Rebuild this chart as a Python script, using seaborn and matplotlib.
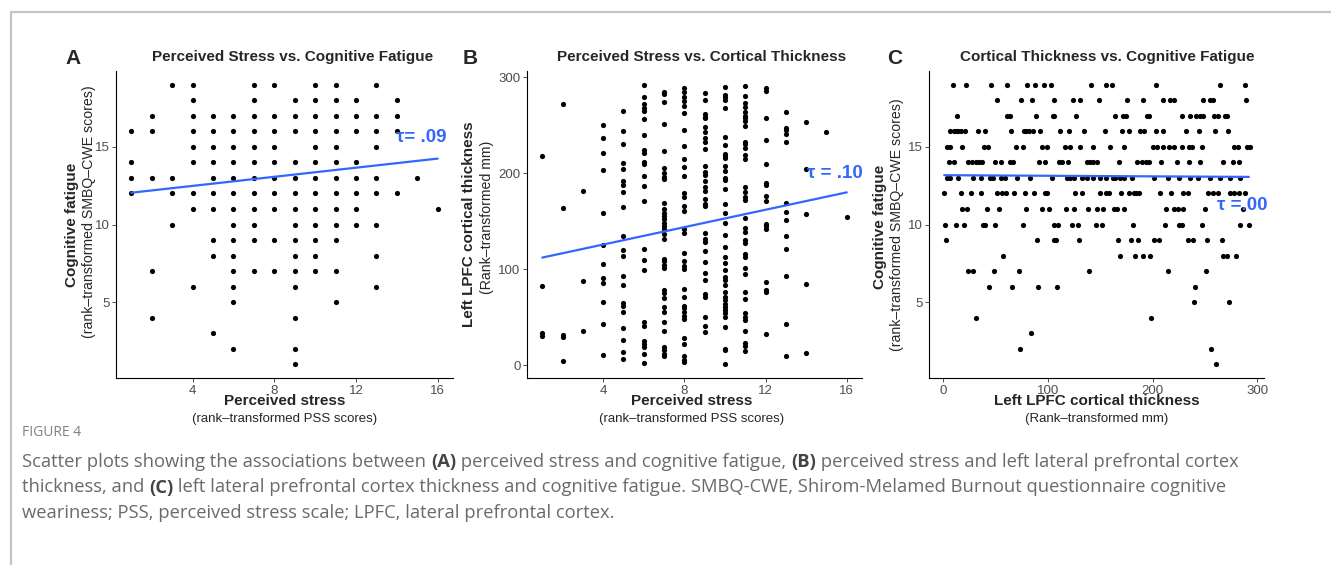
import matplotlib
matplotlib.use("Agg")
import matplotlib.pyplot as plt
import pandas as pd
import seaborn as sns
from matplotlib.lines import Line2D

# Panel A: cognitive fatigue values at each perceived-stress rank
a_fatigue_by_stress = {
    1: [16, 14, 13, 12],
    2: [17, 16, 13, 7, 4],
    3: [19, 13, 12, 10],
    4: [19, 18, 17, 16, 15, 14, 12, 11, 6],
    5: [17, 16, 15, 14, 13, 12, 11, 9, 8, 3],
    6: [17, 16, 15, 14, 13, 12, 11, 10, 9, 8, 7, 6, 5, 2],
    7: [19, 18, 17, 16, 15, 14, 13, 12, 11, 10, 9, 7],
    8: [19, 17, 16, 15, 14, 13, 12, 11, 9, 7],
    9: [18, 17, 16, 14, 13, 12, 11, 10, 9, 8, 7, 6, 4, 2, 1],
    10: [19, 18, 17, 16, 15, 14, 13, 12, 11, 10, 9, 8, 7],
    11: [19, 18, 17, 16, 15, 14, 13, 12, 11, 10, 9, 7, 5],
    12: [18, 17, 16, 14, 13, 12, 11, 10],
    13: [19, 17, 16, 15, 13, 12, 10, 8, 6],
    14: [18, 17, 16, 12],
    15: [13],
    16: [11],
}

# Panel B: cortical thickness ranks at each perceived-stress rank
b_thickness_by_stress = {
    1: [218, 82, 33, 30],
    2: [272, 164, 31, 29, 4],
    3: [181, 88, 35],
    4: [250, 237, 221, 203, 158, 125, 105, 91, 86, 66, 43, 10],
    5: [265, 244, 230, 211, 204, 192, 188, 180, 165, 135, 120, 114, 93, 83, 65,
        62, 55, 39, 26, 14, 6],
    6: [292, 279, 272, 268, 265, 256, 240, 224, 221, 212, 210, 197, 187, 171, 121,
        109, 99, 45, 41, 25, 22, 19, 11, 2],
    7: [285, 283, 274, 251, 223, 205, 200, 196, 194, 169, 163, 159, 155, 152, 148,
        145, 142, 137, 131, 111, 108, 104, 101, 78, 75, 70, 60, 55, 45, 35, 19, 16,
        11, 9],
    8: [289, 285, 279, 275, 270, 263, 245, 228, 215, 206, 197, 179, 175, 166, 161,
        142, 138, 117, 108, 103, 100, 79, 71, 62, 59, 55, 51, 48, 28, 22, 9, 5, 3],
    9: [284, 276, 262, 259, 257, 248, 243, 237, 233, 225, 207, 201, 198, 192, 186,
        181, 173, 168, 166, 138, 131, 128, 119, 107, 96, 89, 74, 71, 50, 41, 34],
    10: [290, 282, 279, 276, 268, 238, 229, 220, 218, 216, 207, 202, 195, 193, 183,
         168, 159, 148, 136, 123, 113, 106, 99, 92, 89, 83, 76, 71, 68, 64, 61, 57,
         54, 50, 40, 17, 16, 1],
    11: [291, 280, 273, 269, 264, 260, 257, 254, 249, 232, 230, 226, 219, 215, 186,
         180, 175, 172, 153, 143, 139, 130, 127, 116, 113, 101, 95, 76, 69, 54, 50,
         47, 36, 23, 20, 15],
    12: [289, 286, 258, 235, 210, 190, 188, 176, 171, 147, 145, 142, 87, 78, 76, 32],
    13: [264, 247, 245, 241, 233, 169, 160, 151, 134, 121, 93, 43, 9],
    14: [253, 204, 157, 85, 13],
    15: [243],
    16: [154],
}

# Panel C: cortical thickness ranks at each cognitive fatigue level
c_thickness_by_fatigue = {
    19: [9, 22, 46, 61, 80, 88, 96, 103, 141, 156, 161, 203, 264, 288],
    18: [51, 74, 85, 106, 124, 131, 149, 176, 191, 210, 217, 221, 248, 255, 258, 289],
    17: [13, 61, 64, 89, 105, 106, 127, 164, 172, 175, 195, 197, 228, 236, 242, 245,
         248, 259, 263, 269, 271],
    16: [7, 10, 12, 14, 17, 21, 33, 40, 65, 77, 79, 82, 86, 93, 112, 120, 135, 155,
         171, 178, 188, 192, 203, 210, 232, 244, 260, 272],
    15: [4, 7, 18, 39, 43, 70, 76, 94, 99, 116, 121, 131, 143, 159, 173, 200, 204,
         210, 216, 221, 228, 235, 238, 247, 278, 282, 290, 293],
    14: [6, 10, 24, 28, 31, 34, 37, 50, 55, 64, 67, 92, 97, 111, 114, 119, 137, 140,
         143, 147, 168, 185, 190, 194, 197, 208, 223, 235, 245, 267, 277, 283],
    13: [4, 7, 14, 29, 36, 45, 48, 55, 59, 71, 83, 104, 118, 121, 125, 133, 137, 143,
         150, 156, 162, 164, 169, 173, 180, 201, 215, 225, 236, 243, 255, 264, 274, 284],
    12: [1, 17, 27, 36, 51, 56, 60, 68, 78, 87, 97, 99, 126, 133, 150, 156, 158, 170,
         178, 182, 184, 187, 207, 218, 229, 234, 253, 258, 263, 274, 278, 283, 288],
    11: [18, 23, 42, 53, 79, 94, 101, 117, 125, 138, 147, 153, 163, 166, 173, 213,
         221, 224, 229, 250, 286],
    10: [2, 12, 20, 38, 40, 50, 76, 106, 110, 123, 129, 146, 152, 181, 212, 225, 228,
         247, 284, 292],
    9: [3, 90, 106, 108, 130, 167, 179, 186, 201, 206, 234, 239, 252, 266],
    8: [57, 169, 183, 191, 198, 267, 271, 280],
    7: [24, 29, 49, 72, 139, 215, 251],
    6: [44, 66, 91, 109, 241],
    5: [240, 273],
    4: [31, 199],
    3: [84],
    2: [73, 256],
    1: [261],
}

# fitted lines (end points)
fit_a_x, fit_a_y = [1, 16], [12.05, 14.25]
fit_b_x, fit_b_y = [1, 16], [112, 180]
fit_c_x, fit_c_y = [1, 292], [13.18, 13.07]

tau_labels = ["\u03c4= .09", "\u03c4 = .10", "\u03c4 =.00"]


def long_form(groups, key, val):
    rows = [(k, v) for k, vals in groups.items() for v in vals]
    return pd.DataFrame(rows, columns=[key, val])


df_a = long_form(a_fatigue_by_stress, "stress", "fatigue")
df_b = long_form(b_thickness_by_stress, "stress", "thickness")
df_c = long_form(c_thickness_by_fatigue, "fatigue", "thickness")

sns.set_style("white")
plt.rcParams["font.family"] = ["Liberation Sans", "DejaVu Sans"]

W, H = 1331, 565
fig = plt.figure(figsize=(W / 100, H / 100), dpi=100)
BLUE = "#3366FF"


def box(left, top, right, bottom):
    return [left / W, 1 - bottom / H, (right - left) / W, (bottom - top) / H]


def ftext(x, y, s, **kw):
    return fig.text(x / W, 1 - y / H, s, **kw)


def style(ax, xlim, ylim, xticks, yticks):
    ax.set_xlim(*xlim)
    ax.set_ylim(*ylim)
    ax.set_xticks(xticks)
    ax.set_yticks(yticks)
    for side in ["top", "right"]:
        ax.spines[side].set_visible(False)
    for side in ["left", "bottom"]:
        ax.spines[side].set_color("black")
        ax.spines[side].set_linewidth(0.8)
    ax.tick_params(length=2.75, width=0.6, color="#333333", labelcolor="#4D4D4D",
                   labelsize=9.5, pad=2, bottom=True, left=True)
    ax.set_xlabel("")
    ax.set_ylabel("")


dot = dict(color="black", s=14, linewidth=0)
line = dict(color=BLUE, linewidth=1.6)

ax1 = fig.add_axes(box(116, 71, 453, 378))
sns.scatterplot(data=df_a, x="stress", y="fatigue", ax=ax1, **dot)
sns.lineplot(x=fit_a_x, y=fit_a_y, ax=ax1, **line)
style(ax1, (0.25, 16.75), (0.1, 19.9), [4, 8, 12, 16], [5, 10, 15])

ax2 = fig.add_axes(box(527, 71, 862, 378))
sns.scatterplot(data=df_b, x="stress", y="thickness", ax=ax2, **dot)
sns.lineplot(x=fit_b_x, y=fit_b_y, ax=ax2, **line)
style(ax2, (0.25, 16.75), (-13.5, 306.5), [4, 8, 12, 16], [0, 100, 200, 300])

ax3 = fig.add_axes(box(929, 71, 1264, 378))
sns.scatterplot(data=df_c, x="thickness", y="fatigue", ax=ax3, **dot)
sns.lineplot(x=fit_c_x, y=fit_c_y, ax=ax3, **line)
style(ax3, (-13.5, 306.5), (0.1, 19.9), [0, 100, 200, 300], [5, 10, 15])

# panel letters and titles
for lx, letter, tx, title in [
    (73, "A", 293, "Perceived Stress vs. Cognitive Fatigue"),
    (470, "B", 702, "Perceived Stress vs. Cortical Thickness"),
    (895, "C", 1107, "Cortical Thickness vs. Cognitive Fatigue"),
]:
    ftext(lx, 58, letter, fontsize=15, fontweight="bold", ha="center", va="center")
    ftext(tx, 57, title, fontsize=11, fontweight="bold", ha="center", va="center")

# axis labels
ylabels = [
    (72, 225, 89, 212, "Cognitive fatigue", "(rank\u2013transformed SMBQ\u2013CWE scores)"),
    (469, 224, 487, 217, "Left LPFC cortical thickness", "(Rank\u2013transformed mm)"),
    (880, 227, 897, 225, "Cognitive fatigue", "(rank\u2013transformed SMBQ\u2013CWE scores)"),
]
for bx, by, sx, sy, main, sub in ylabels:
    ftext(bx, by, main, fontsize=11, fontweight="bold", rotation=90, ha="center", va="center")
    ftext(sx, sy, sub, fontsize=10.2, rotation=90, ha="center", va="center")

xlabels = [
    (285, "Perceived stress", "(rank\u2013transformed PSS scores)"),
    (692, "Perceived stress", "(rank\u2013transformed PSS scores)"),
    (1097, "Left LPFC cortical thickness", "(Rank\u2013transformed mm)"),
]
for cx, main, sub in xlabels:
    ftext(cx, 401, main, fontsize=11, fontweight="bold", ha="center", va="center")
    ftext(cx, 419, sub, fontsize=9.5, ha="center", va="center")

# Kendall tau annotations
for (x, y), lab in zip([(396, 138), (807, 173), (1217, 205)], tau_labels):
    ftext(x, y, lab, fontsize=13.5, fontweight="bold", color=BLUE, ha="left", va="center")

# frame lines of the figure panel
fig.add_artist(Line2D([11 / W, 1], [1 - 12 / H, 1 - 12 / H], color="#c4c4c4", lw=1.6))
fig.add_artist(Line2D([11 / W, 11 / W], [0, 1 - 12 / H], color="#c4c4c4", lw=1.6))

# caption
ftext(22, 432, "FIGURE 4", fontsize=10, color="#808080",
      family="Open Sans", ha="left", va="center")

caption = [
    [("Scatter plots showing the associations between ", "normal"), ("(A)", "bold"),
     (" perceived stress and cognitive fatigue, ", "normal"), ("(B)", "bold"),
     (" perceived stress and left lateral prefrontal cortex", "normal")],
    [("thickness, and ", "normal"), ("(C)", "bold"),
     (" left lateral prefrontal cortex thickness and cognitive fatigue. SMBQ-CWE, "
      "Shirom-Melamed Burnout questionnaire cognitive", "normal")],
    [("weariness; PSS, perceived stress scale; LPFC, lateral prefrontal cortex.", "normal")],
]

renderer = fig.canvas.get_renderer()


def width_px(s, weight, size):
    t = fig.text(0, 0, s + "x", fontsize=size, fontweight=weight, family="Open Sans")
    x = fig.text(0, 0, "x", fontsize=size, fontweight=weight, family="Open Sans")
    w = t.get_window_extent(renderer).width - x.get_window_extent(renderer).width
    t.remove()
    x.remove()
    return w


# size the caption so that its first line spans about 1210 px
first_w = sum(width_px(s, w, 12) for s, w in caption[0])
cap_size = 12 * 1210 / first_w

for i, parts in enumerate(caption):
    x = 22
    y = 462 + i * 25.5
    for s, weight in parts:
        color = "#444444" if weight == "bold" else "#6a6a6a"
        ftext(x, y, s, fontsize=cap_size, fontweight=weight, color=color,
              family="Open Sans", ha="left", va="center")
        x += width_px(s, weight, cap_size)

fig.savefig("out.png", dpi=100)
